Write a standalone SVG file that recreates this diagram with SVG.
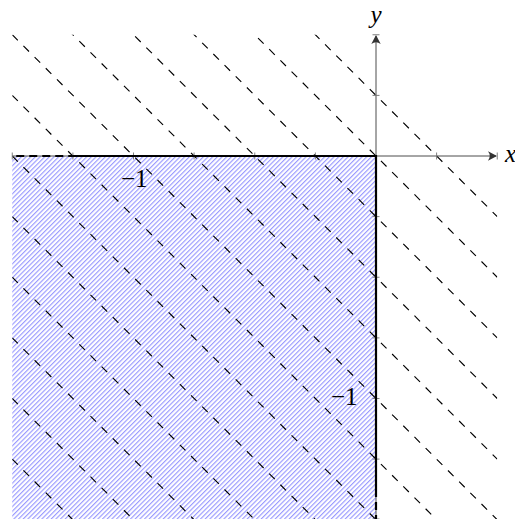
<svg xmlns="http://www.w3.org/2000/svg" width="515" height="519" viewBox="0 0 515 519">
  <style>
    .lvl { fill: none; stroke: #000; stroke-width: 1.15; stroke-dasharray: 7.9 7.9; }
    .axis { fill: none; stroke: #4d4d4d; stroke-width: 1; }
    .tick { fill: none; stroke: #707070; stroke-width: 0.9; }
    .bd { fill: none; stroke: #000; stroke-width: 2.2; }
    .lbl { font-family: "Liberation Serif", "Times New Roman", serif; font-size: 25px; fill: #000; }
    .it { font-style: italic; font-size: 25px; }
  </style>
  <defs>
    <pattern id="hatch" width="3.3" height="3.3" patternUnits="userSpaceOnUse" patternTransform="rotate(-45)">
      <rect x="0" y="0" width="3.3" height="1.15" fill="#9a9aff"/>
    </pattern>
    <clipPath id="box">
      <rect x="12.25" y="34.75" width="485" height="485"/>
    </clipPath>
  </defs>
  <rect width="515" height="519" fill="#fff"/>

  <g id="region">
    <rect x="12.25" y="156" width="363.75" height="364" fill="url(#hatch)"/>
  </g>

  <g id="levels" clip-path="url(#box)">
    <line class="lvl" x1="12.25" y1="-268.375" x2="497.25" y2="216.625"/>
    <line class="lvl" x1="12.25" y1="-207.75" x2="497.25" y2="277.25"/>
    <line class="lvl" x1="12.25" y1="-147.125" x2="497.25" y2="337.875"/>
    <line class="lvl" x1="12.25" y1="-86.5" x2="497.25" y2="398.5"/>
    <line class="lvl" x1="12.25" y1="-25.875" x2="497.25" y2="459.125"/>
    <line class="lvl" x1="12.25" y1="34.75" x2="497.25" y2="519.75"/>
    <line class="lvl" x1="12.25" y1="95.375" x2="436.625" y2="519.75"/>
    <line class="lvl" x1="12.25" y1="156" x2="376" y2="519.75"/>
    <line class="lvl" x1="12.25" y1="216.625" x2="315.375" y2="519.75"/>
    <line class="lvl" x1="12.25" y1="277.25" x2="254.75" y2="519.75"/>
    <line class="lvl" x1="12.25" y1="337.875" x2="194.125" y2="519.75"/>
    <line class="lvl" x1="12.25" y1="398.5" x2="133.5" y2="519.75"/>
    <line class="lvl" x1="12.25" y1="459.125" x2="72.875" y2="519.75"/>
  </g>

  <g id="axes">
    <line class="axis" x1="12.25" y1="156" x2="496" y2="156"/>
    <line class="axis" x1="376" y1="519" x2="376" y2="36"/>
    <path d="M497,156 L488,151.3 Q491.5,156 488,160.7 Z" fill="#333"/>
    <path d="M376,35 L371.3,44 Q376,40.5 380.7,44 Z" fill="#333"/>
    <g class="tick">
      <line x1="12.25" y1="152.5" x2="12.25" y2="159.5"/>
      <line x1="72.9" y1="152.5" x2="72.9" y2="159.5"/>
      <line x1="133.5" y1="152.5" x2="133.5" y2="159.5"/>
      <line x1="194.1" y1="152.5" x2="194.1" y2="159.5"/>
      <line x1="254.75" y1="152.5" x2="254.75" y2="159.5"/>
      <line x1="315.4" y1="152.5" x2="315.4" y2="159.5"/>
      <line x1="436.6" y1="152.5" x2="436.6" y2="159.5"/>
      <line x1="497.25" y1="152.5" x2="497.25" y2="159.5"/>
      <line x1="372.5" y1="34.75" x2="379.5" y2="34.75"/>
      <line x1="372.5" y1="95.4" x2="379.5" y2="95.4"/>
      <line x1="372.5" y1="216.6" x2="379.5" y2="216.6"/>
      <line x1="372.5" y1="277.25" x2="379.5" y2="277.25"/>
      <line x1="372.5" y1="337.9" x2="379.5" y2="337.9"/>
      <line x1="372.5" y1="398.5" x2="379.5" y2="398.5"/>
      <line x1="372.5" y1="459.1" x2="379.5" y2="459.1"/>
      <line x1="372.5" y1="519" x2="379.5" y2="519"/>
    </g>
  </g>

  <g id="boundary">
    <path class="bd" d="M72.9,156 L376,156 L376,489"/>
    <path class="bd" d="M12.25,156 L72.9,156" stroke-dasharray="8 5" stroke-dashoffset="-4"/>
    <path class="bd" d="M376,489 L376,520" stroke-dasharray="8 5"/>
  </g>

  <g id="labels">
    <text class="lbl it" x="376" y="23" text-anchor="middle">y</text>
    <text class="lbl it" x="505" y="162">x</text>
    <text class="lbl" x="147.5" y="187" text-anchor="end">−1</text>
    <text class="lbl" x="357.5" y="405" text-anchor="end">−1</text>
  </g>
</svg>
